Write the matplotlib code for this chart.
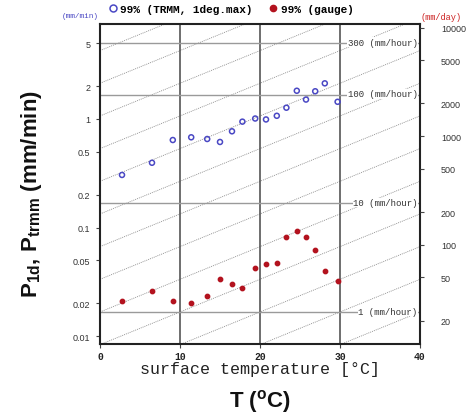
import numpy as np
import matplotlib
matplotlib.use("Agg")
import matplotlib.pyplot as plt
from matplotlib.lines import Line2D

# ---- data ----
temperature = [2.75, 6.5, 9.1, 11.4, 13.4, 15.0, 16.5, 17.8, 19.4, 20.75,
               22.1, 23.3, 24.6, 25.75, 26.9, 28.1, 29.7]
trmm_99 = [0.305, 0.395, 0.64, 0.678, 0.654, 0.614, 0.77, 0.945, 1.01, 0.99,
           1.07, 1.27, 1.82, 1.51, 1.80, 2.13, 1.44]
gauge_99 = [0.0209, 0.0262, 0.0209, 0.0203, 0.0235, 0.0335, 0.0299, 0.0279,
            0.0423, 0.0464, 0.0471, 0.0822, 0.0922, 0.0813, 0.0625, 0.040, 0.0319]

left_ticks = [5, 2, 1, 0.5, 0.2, 0.1, 0.05, 0.02, 0.01]
left_ticklabels = ["5", "2", "1", "0.5", "0.2", "0.1", "0.05", "0.02", "0.01"]
right_ticks = [10000, 5000, 2000, 1000, 500, 200, 100, 50, 20]
x_ticks = [0, 10, 20, 30, 40]
hour_lines = [300, 100, 10, 1]          # mm/hour reference lines
cc_offsets = list(range(-5, 9))          # Clausius-Clapeyron guide lines (x2 per 10 K)

YMIN, YMAX = 0.00845, 7.5
BLUE = "#4a48c4"
RED = "#b3121e"

mono = "Liberation Mono"
sans = "Liberation Sans"

fig = plt.figure(figsize=(4.74, 4.14), dpi=100)
ax = fig.add_axes([100 / 474, 1 - 345 / 414, 320 / 474, 320 / 414])
ax.set_yscale("log")
ax.set_xlim(0, 40)
ax.set_ylim(YMIN, YMAX)

# CC dotted guide lines
tt = np.linspace(0, 40, 200)
for k in cc_offsets:
    ax.plot(tt, (1 / 60) * 2 ** (tt / 10 + k), color="#8a8a8a", lw=0.6,
            ls=(0, (1.2, 1.2)), zorder=1)

# vertical grid
for xv in [10, 20, 30]:
    ax.axvline(xv, color="#555555", lw=1.2, zorder=2)

# horizontal mm/hour lines + labels
for h in hour_lines:
    yv = h / 60
    ax.axhline(yv, color="#9a9a9a", lw=1.0, zorder=2)
    ax.text(39.7, yv * 1.02, f"{h} (mm/hour)", ha="right", va="center",
            family=mono, fontsize=6.5, color="#333333", zorder=3,
            bbox=dict(facecolor="white", edgecolor="none", pad=0.3))

# data
ax.scatter(temperature, trmm_99, s=13, facecolors="none", edgecolors=BLUE,
           linewidths=1.1, zorder=4)
ax.scatter(temperature, gauge_99, s=10, color=RED, zorder=4)

# axes styling
for sp in ax.spines.values():
    sp.set_linewidth(1.5)
    sp.set_color("#222222")
ax.set_xticks(x_ticks)
ax.set_xticklabels([str(v) for v in x_ticks], family=mono, fontweight="bold",
                   fontsize=7, color="#222222")
ax.set_yticks(left_ticks)
ax.set_yticklabels(left_ticklabels, family=sans, fontsize=6.5, color="#333333")
ax.yaxis.set_minor_locator(matplotlib.ticker.NullLocator())
ax.tick_params(axis="both", direction="out", length=3, width=0.8, color="#444444")
ax.tick_params(axis="x", pad=2)
ax.tick_params(axis="y", pad=4)

ax2 = ax.twinx()
ax2.set_yscale("log")
ax2.set_ylim(YMIN * 1440, YMAX * 1440)
ax2.set_yticks(right_ticks)
ax2.set_yticklabels([str(v) for v in right_ticks], family=sans, fontsize=6.5,
                    color="#333333")
ax2.yaxis.set_minor_locator(matplotlib.ticker.NullLocator())
ax2.tick_params(axis="y", direction="out", length=3, width=0.8, color="#444444", pad=12)
for sp in ax2.spines.values():
    sp.set_visible(False)

ax.set_xlabel("surface temperature [°C]", family=mono, fontsize=12,
              color="#222222", labelpad=0)

# unit labels
fig.text(62 / 474, 1 - 17 / 414, "(mm/min)", family=mono, fontsize=5.5,
         color=BLUE, ha="left", va="center")
fig.text(421 / 474, 1 - 18 / 414, "(mm/day)", family=mono, fontsize=6.2,
         color="#cc2222", ha="left", va="center")

# legend
handles = [Line2D([], [], marker="o", ls="none", markerfacecolor="none",
                  markeredgecolor=BLUE, markeredgewidth=1.1, markersize=5),
           Line2D([], [], marker="o", ls="none", color=RED, markersize=4.5)]
fig.legend(handles, ["99% (TRMM, 1deg.max)", "99% (gauge)"], loc="center left",
           bbox_to_anchor=(106 / 474, 1 - 10 / 414), ncol=2, frameon=False,
           handletextpad=0.1, columnspacing=1.2, borderaxespad=0, borderpad=0,
           handlelength=1.2, prop=dict(family=mono, weight="bold", size=8))

# outer labels
fig.text(32 / 474, 1 - 194 / 414, r"P$_{\mathregular{1d}}$, P$_{\mathregular{trmm}}$ (mm/min)",
         rotation=90, family=sans, fontweight="bold", fontsize=16,
         ha="center", va="center", color="#111111")
fig.text(260 / 474, 1 - 402 / 414, r"T ($^{\mathregular{o}}$C)", family=sans,
         fontweight="bold", fontsize=16, ha="center", va="center", color="#111111")

fig.savefig("out.png", dpi=100)
